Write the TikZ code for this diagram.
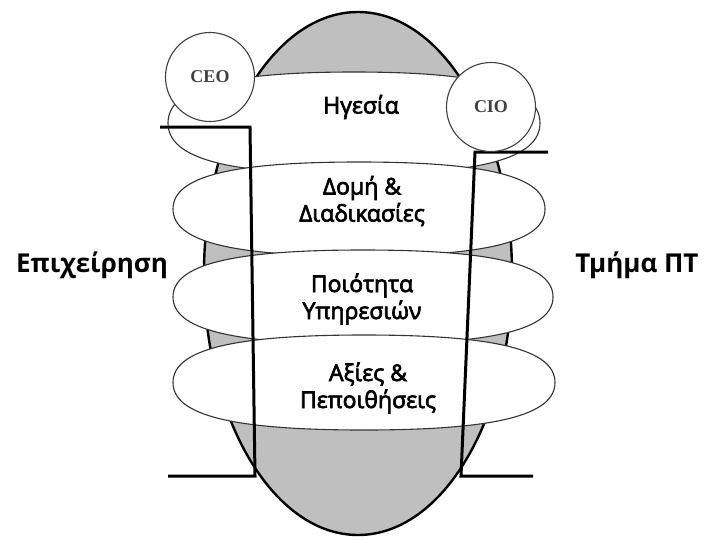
\documentclass[tikz,border=0pt]{standalone}
\usepackage{fontspec}
\setmainfont{Open Sans}
\newfontfamily\ringfont[FakeBold=3]{Open Sans}
\newfontfamily\execfont{Liberation Serif}
\usetikzlibrary{shapes.geometric}

% a slightly flattened ellipse of radius 1
\newcommand{\ringshape}{(1,0) .. controls (1,0.69) and (0.69,1) .. (0,1)
  .. controls (-0.69,1) and (-1,0.69) .. (-1,0)
  .. controls (-1,-0.69) and (-0.69,-1) .. (0,-1)
  .. controls (0.69,-1) and (1,-0.69) .. (1,0) -- cycle}

\tikzstyle{core}=[draw,ellipse,fill=black!25,line width=2.4pt,minimum width=308pt,minimum height=523pt]
\tikzstyle{ring}=[draw=black!80,fill=white,line width=1.1pt]
\tikzstyle{exec}=[draw=black!75,circle,fill=white,line width=1.1pt,minimum size=89pt,text=black!75,font=\execfont\bfseries\fontsize{18}{18}\selectfont]
\tikzstyle{txt}=[align=center,font=\ringfont\fontsize{23}{27}\selectfont]
\tikzstyle{side}=[anchor=base,font=\bfseries\fontsize{26}{26}\selectfont]
\tikzstyle{bar}=[line width=3pt]

\begin{document}
\begin{tikzpicture}[x=1pt,y=-1pt]
  \useasboundingbox (0,0) rectangle (705,539);

  \node[core] (firm) at (358,273.5) {};

  \draw[ring,shift={(354,123)},xscale=186,yscale=51] \ringshape;
  \draw[ring,shift={(359,209)},xscale=186,yscale=47] \ringshape;
  \draw[ring,shift={(363,297)},xscale=190,yscale=47] \ringshape;
  \draw[ring,shift={(364,382.5)},xscale=191,yscale=47.5] \ringshape;

  % business side
  \coordinate (lt1) at (160,127);
  \coordinate (lt2) at (250,127);
  \coordinate (lb2) at (255,476);
  \coordinate (lb1) at (168,476);
  % IT side
  \coordinate (rt1) at (548,152);
  \coordinate (rt2) at (475,152);
  \coordinate (rb2) at (461,476);
  \coordinate (rb1) at (533,476);

  \draw[bar] (lt1) -- (lt2) -- (lb2) -- (lb1);
  \draw[bar] (rt1) -- (rt2) -- (rb2) -- (rb1);

  \node[exec] (ceo) at (210,77) {CEO};
  \node[exec] (cio) at (491,107) {CIO};

  \node[txt] (leadtxt) at (361,107) {Ηγεσία};
  \node[txt] (structtxt) at (362,201) {Δομή \&\\Διαδικασίες};
  \node[txt] (qualitytxt) at (362,299) {Ποιότητα\\Υπηρεσιών};
  \node[txt] (valuestxt) at (368,388) {Αξίες \&\\Πεποιθήσεις};

  \node[side] (business) at (92,272) {Επιχείρηση};
  \node[side] (itdept) at (637,272) {Τμήμα ΠΤ};
\end{tikzpicture}
\end{document}
